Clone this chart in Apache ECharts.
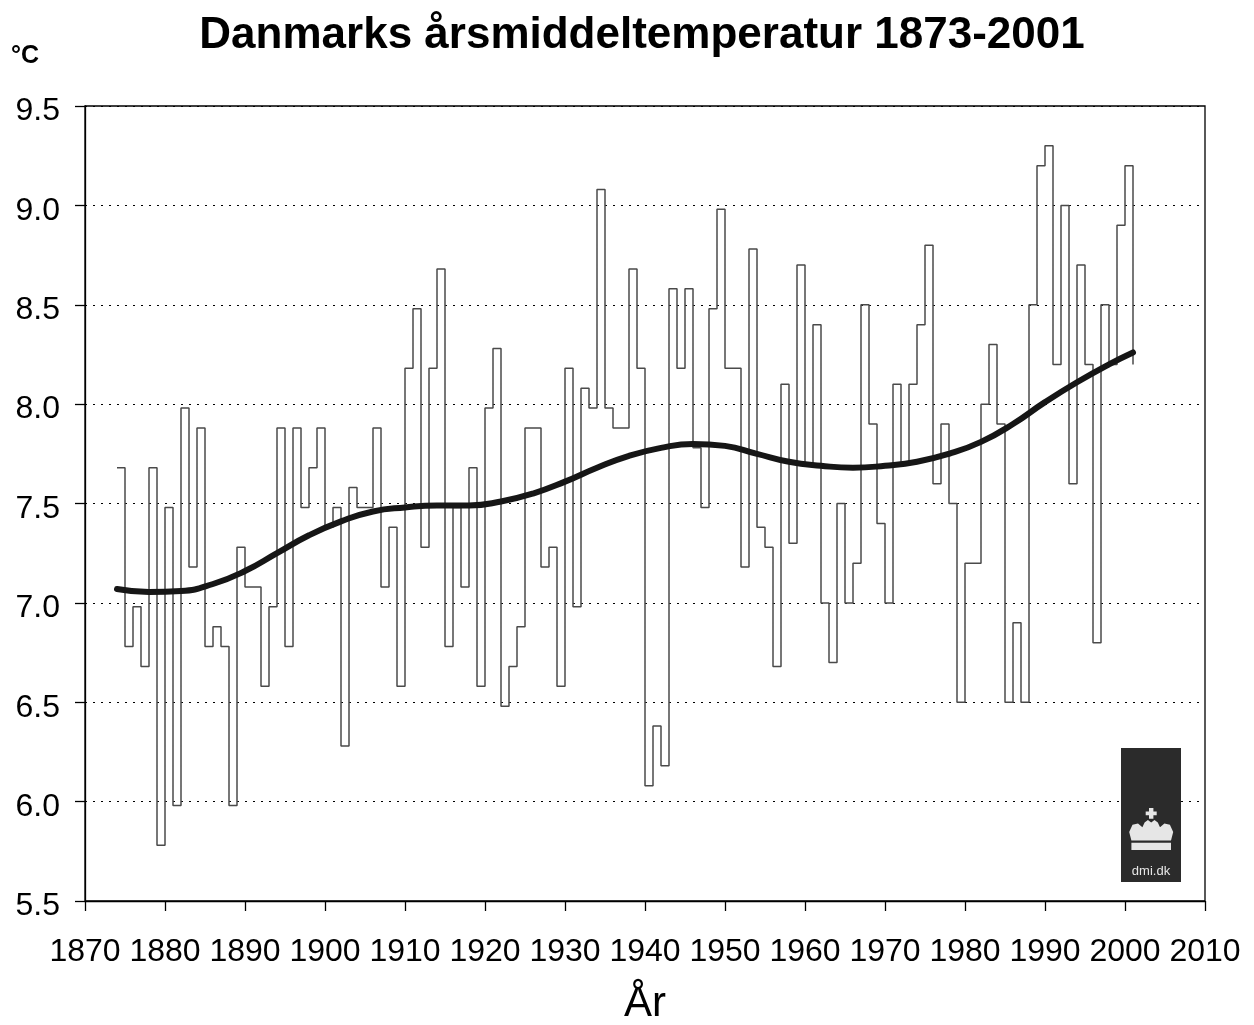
<!DOCTYPE html>
<html>
<head>
<meta charset="utf-8">
<script src="https://cdn.jsdelivr.net/npm/echarts@6/dist/echarts.min.js"></script>
<style>
  html, body { margin: 0; padding: 0; background: #ffffff; }
  #chart { width: 1254px; height: 1025px; }
</style>
</head>
<body>
<div id="chart"></div>
<script>
// ---- data ----
var firstYear = 1874;
var annualTemp = [
  7.68, 6.78, 6.98, 6.68, 7.68, 5.78,
  7.48, 5.98, 7.98, 7.18, 7.88, 6.78, 6.88, 6.78, 5.98, 7.28,
  7.08, 7.08, 6.58, 6.98, 7.88, 6.78, 7.88, 7.48, 7.68, 7.88,
  7.38, 7.48, 6.28, 7.58, 7.48, 7.48, 7.88, 7.08, 7.38, 6.58,
  8.18, 8.48, 7.28, 8.18, 8.68, 6.78, 7.48, 7.08, 7.68, 6.58,
  7.98, 8.28, 6.48, 6.68, 6.88, 7.88, 7.88, 7.18, 7.28, 6.58,
  8.18, 6.98, 8.08, 7.98, 9.08, 7.98, 7.88, 7.88, 8.68, 8.18,
  6.08, 6.38, 6.18, 8.58, 8.18, 8.58, 7.78, 7.48, 8.48, 8.98,
  8.18, 8.18, 7.18, 8.78, 7.38, 7.28, 6.68, 8.10, 7.30, 8.70,
  7.70, 8.40, 7.00, 6.70, 7.50, 7.00, 7.20, 8.50, 7.90, 7.40,
  7.00, 8.10, 7.70, 8.10, 8.40, 8.80, 7.60, 7.90, 7.50, 6.50,
  7.20, 7.20, 8.00, 8.30, 7.90, 6.50, 6.90, 6.50, 8.50, 9.20,
  9.30, 8.20, 9.00, 7.60, 8.70, 8.20, 6.80, 8.50, 8.20, 8.90,
  9.20, 8.20
];
var trendYears = [1874, 1878, 1882, 1886, 1890, 1894, 1898, 1902, 1906, 1910,
                  1914, 1918, 1922, 1926, 1930, 1934, 1938, 1942, 1946, 1950,
                  1954, 1958, 1962, 1966, 1970, 1974, 1978, 1982, 1986, 1990,
                  1994, 1998, 2001];
var trendTemp  = [7.07, 7.055, 7.06, 7.095, 7.16, 7.25, 7.34, 7.41, 7.46, 7.48,
                  7.49, 7.49, 7.51, 7.55, 7.61, 7.68, 7.74, 7.78, 7.80, 7.79,
                  7.75, 7.71, 7.69, 7.68, 7.69, 7.71, 7.75, 7.81, 7.90, 8.01,
                  8.11, 8.20, 8.26];
var xTicks = {min: 1870, max: 2010, step: 10};
var yTicks = {min: 5.5, max: 9.5, step: 0.5};
var titleText = 'Danmarks årsmiddeltemperatur 1873-2001';
var unitText = '°C';
var xAxisName = 'År';
var logoText = 'dmi.dk';

var stepData = annualTemp.map(function (v, i) { return [firstYear + i, v]; });
var trendData = trendYears.map(function (y, i) { return [y, trendTemp[i]]; });

var FONT = '"Liberation Sans", Arial, Helvetica, sans-serif';
var chart = echarts.init(document.getElementById('chart'), null, {renderer: 'canvas'});

// crown icon (logo decoration), local coordinates
var crownCross = [[20,0],[24,0],[24,3],[27,3],[27,6],[24,6],[24,9],[20,9],[20,6],[17,6],[17,3],[20,3]];
var crownBody = [[4,27],[2,20],[5,14],[10,13],[14,16],[16,12],[19,10],[22,12],[25,10],[28,12],[30,16],
                 [34,13],[39,14],[42,20],[40,27]];

chart.setOption({
  animation: false,
  backgroundColor: '#ffffff',
  grid: {
    left: 85, top: 106, width: 1120, height: 795,
    show: true, borderColor: '#000', borderWidth: 1.3, backgroundColor: 'transparent'
  },
  xAxis: {
    type: 'value',
    min: xTicks.min, max: xTicks.max, interval: xTicks.step,
    axisLine: {show: true, onZero: false, lineStyle: {color: '#000', width: 1.3}},
    axisTick: {show: true, length: 10, lineStyle: {color: '#000', width: 1.3}},
    axisLabel: {color: '#000', fontSize: 32, fontFamily: FONT, margin: 35,
                formatter: function (v) { return String(v); }},
    splitLine: {show: false}
  },
  yAxis: {
    type: 'value',
    min: yTicks.min, max: yTicks.max, interval: yTicks.step,
    axisLine: {show: true, onZero: false, lineStyle: {color: '#000', width: 1.3}},
    axisTick: {show: true, length: 10, lineStyle: {color: '#000', width: 1.3}},
    axisLabel: {color: '#000', fontSize: 32, fontFamily: FONT, margin: 25,
                formatter: function (v) { return '{t|' + v.toFixed(1) + '}'; },
                rich: {t: {fontSize: 32, fontFamily: FONT, color: '#000', padding: [11, 0, 0, 0]}}},
    splitLine: {show: true, lineStyle: {color: '#000', width: 1, type: [2, 6]}}
  },
  series: [
    {
      type: 'line', step: 'end', data: stepData, showSymbol: false, symbol: 'none',
      lineStyle: {color: '#4a4a4a', width: 1.5}, z: 2
    },
    {
      type: 'line', data: trendData, smooth: 0.5,
      showSymbol: false, symbol: 'none',
      lineStyle: {color: '#161616', width: 6, cap: 'round'}, z: 3
    }
  ],
  graphic: [
    {type: 'text', x: 642, y: 36, z: 10,
     style: {text: titleText, textAlign: 'center', textVerticalAlign: 'middle',
             font: 'bold 44px ' + FONT, fill: '#000'}},
    {type: 'text', x: 11, y: 56, z: 10,
     style: {text: unitText, textVerticalAlign: 'middle', font: 'bold 25px ' + FONT, fill: '#000'}},
    {type: 'text', x: 645, y: 1004, z: 10,
     style: {text: xAxisName, textAlign: 'center', textVerticalAlign: 'middle',
             font: '42px ' + FONT, fill: '#000'}},
    {type: 'rect', shape: {x: 1121, y: 748, width: 60, height: 134}, z: 10,
     style: {fill: '#2b2b2b'}},
    {type: 'group', x: 1127, y: 808, scaleX: 1.1, scaleY: 1.2, z: 11, children: [
      {type: 'polygon', shape: {points: crownCross}, style: {fill: '#e6e6e6'}, z: 11},
      {type: 'polygon', shape: {points: crownBody}, style: {fill: '#e6e6e6'}, z: 11},
      {type: 'rect', shape: {x: 4, y: 29, width: 36, height: 6}, style: {fill: '#e6e6e6'}, z: 11}
    ]},
    {type: 'text', x: 1151, y: 871, z: 11,
     style: {text: logoText, textAlign: 'center', textVerticalAlign: 'middle',
             font: '13px ' + FONT, fill: '#e6e6e6'}}
  ]
});
</script>
</body>
</html>
